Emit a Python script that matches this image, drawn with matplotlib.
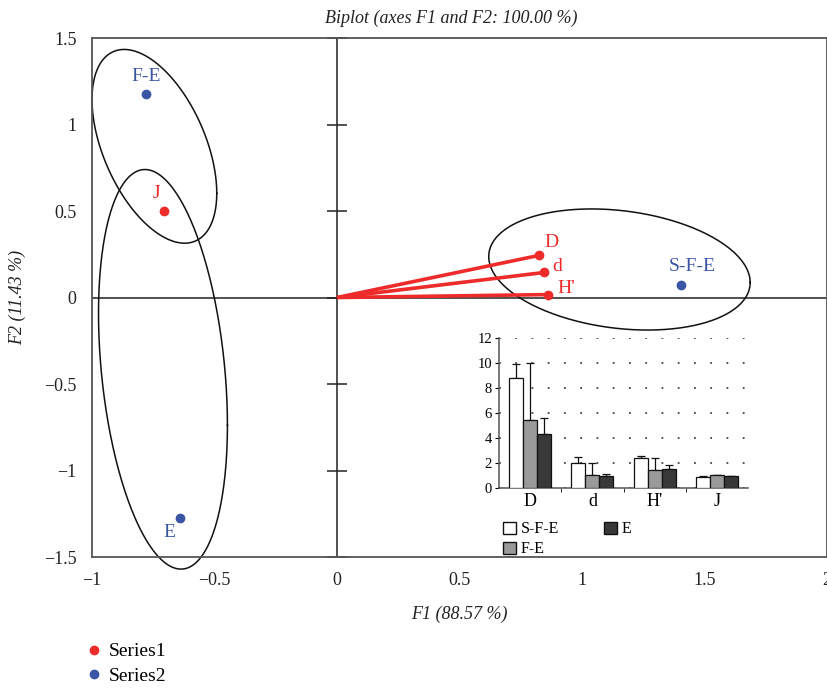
import numpy as np
import matplotlib.pyplot as plt
from matplotlib.lines import Line2D
from matplotlib.patches import Patch

plt.rcParams['font.family'] = ['Liberation Serif', 'DejaVu Serif']

# variables (Series1) - biplot coordinates
var_names = ['D', 'd', "H'", 'J']
var_x = [0.823, 0.847, 0.860, -0.705]
var_y = [0.243, 0.145, 0.017, 0.498]
var_has_vector = [True, True, True, False]

# observations (Series2)
obs_names = ['F-E', 'E', 'S-F-E']
obs_x = [-0.778, -0.640, 1.405]
obs_y = [1.175, -1.274, 0.075]

# confidence ellipses: centre and covariance (xx, xy, yy)
ell_centres = [(-0.745, 0.874), (-0.710, -0.415), (1.153, 0.162)]
ell_covs = [(0.0648, -0.069, 0.3136),
            (0.0692, -0.085, 1.334),
            (0.2846, -0.040, 0.1225)]

# inset bar chart: diversity indices by habitat
idx_names = ['D', 'd', "H'", 'J']
grp_names = ['S-F-E', 'F-E', 'E']
grp_means = [[8.79, 1.96, 2.36, 0.88],
             [5.44, 1.04, 1.45, 0.99],
             [4.29, 0.91, 1.53, 0.91]]
grp_err = [[1.12, 0.48, 0.21, 0.03],
           [4.61, 0.92, 0.91, 0.01],
           [1.28, 0.19, 0.26, 0.02]]
grp_colors = ['white', '#9a9a9a', '#383838']

RED = '#ee2b2b'
BLUE = '#3b55a5'

fig = plt.figure(figsize=(8.28, 6.94), dpi=100)
ax = fig.add_axes([0.111, 0.1974, 0.8878, 0.7478])
ax.set_xlim(-1, 2)
ax.set_ylim(-1.5, 1.5)
ax.set_xticks([-1, -0.5, 0, 0.5, 1, 1.5, 2])
ax.set_xticklabels(['\u22121', '\u22120.5', '0', '0.5', '1', '1.5', '2'])
ax.set_yticks([-1.5, -1, -0.5, 0, 0.5, 1, 1.5])
ax.set_yticklabels(['\u22121.5', '\u22121', '\u22120.5', '0', '0.5', '1', '1.5'])
ax.tick_params(length=0, labelsize=13, pad=11, colors='#222222')
for sp in ax.spines.values():
    sp.set_color('#555555')
    sp.set_linewidth(1.3)

ax.axhline(0, color='#222222', lw=1.1, zorder=1)
ax.axvline(0, color='#222222', lw=1.1, zorder=1)
ax.plot(np.zeros(7), ax.get_yticks(), ls='none', marker='_', ms=14,
        mew=1.1, color='#222222', zorder=1, clip_on=False)

# ellipses from covariance
t = np.linspace(0, 2 * np.pi, 300)
for (cx, cy), (sxx, sxy, syy) in zip(ell_centres, ell_covs):
    L = np.linalg.cholesky(np.array([[sxx, sxy], [sxy, syy]]))
    pts = L @ np.vstack([np.cos(t), np.sin(t)])
    ax.plot(cx + pts[0], cy + pts[1], color='#111111', lw=1.1, zorder=2, clip_on=False)

# variable vectors
for x, y, v in zip(var_x, var_y, var_has_vector):
    if v:
        ax.plot([0, x], [0, y], color=RED, lw=2.6, zorder=3, solid_capstyle='butt')
ax.scatter(var_x, var_y, s=36, color=RED, zorder=4, label='Series1')
ax.scatter(obs_x, obs_y, s=36, color=BLUE, zorder=4, label='Series2')

var_off = [(13, 13), (13, 6), (19, 6), (-8, 18)]
for n, x, y, o in zip(var_names, var_x, var_y, var_off):
    ax.annotate(n, (x, y), xytext=o, textcoords='offset pixels', color=RED,
                fontsize=14, ha='center', va='center')
obs_off = [(0, 18), (-11, -15), (11, 18)]
for n, x, y, o in zip(obs_names, obs_x, obs_y, obs_off):
    ax.annotate(n, (x, y), xytext=o, textcoords='offset pixels', color=BLUE,
                fontsize=14, ha='center', va='center')

ax.set_xlabel('F1 (88.57 %)', fontsize=13, style='italic', labelpad=12, color='#222222')
ax.set_ylabel('F2 (11.43 %)', fontsize=13, style='italic', color='#222222')
ax.yaxis.set_label_coords(-0.09, 0.5)
fig.text(451 / 828, 1 - 18 / 694, 'Biplot (axes F1 and F2: 100.00 %)', fontsize=13,
         style='italic', ha='center', va='center', color='#222222')

fig.legend(handles=[Line2D([], [], ls='none', marker='o', ms=6, color=RED, label='Series1'),
                    Line2D([], [], ls='none', marker='o', ms=6, color=BLUE, label='Series2')],
           loc='upper left', bbox_to_anchor=(0.092, 0.085), frameon=False, fontsize=14,
           handletextpad=0.3, labelspacing=0.35, borderaxespad=0, handlelength=1.0)

# inset bar chart
ins = fig.add_axes([0.6027, 0.2973, 0.3007, 0.2153])
xs = np.arange(len(idx_names))
w = 0.225
for i, (m, e, c) in enumerate(zip(grp_means, grp_err, grp_colors)):
    pos = xs + (i - 1) * w
    ins.bar(pos, m, width=w, color=c, edgecolor='#111111', lw=0.9, label=grp_names[i], zorder=3)
    ins.errorbar(pos, m, yerr=[np.zeros(len(e)), e], fmt='none', ecolor='#111111',
                 elinewidth=0.9, capsize=3, capthick=0.9, zorder=2)
ins.set_xlim(-0.5, 3.5)
ins.set_ylim(0, 12)
ins.set_yticks(range(0, 13, 2))
ins.set_xticks(xs)
ins.set_xticklabels(idx_names, fontsize=13)
ins.set_xticks(xs[:-1] + 0.5, minor=True)
ins.tick_params(axis='y', labelsize=10.5, length=3, pad=2)
ins.tick_params(axis='x', which='major', length=0, pad=4)
ins.tick_params(axis='x', which='minor', length=3, direction='out')
ins.yaxis.grid(True, ls=(0, (1, 8)), color='#444444', lw=1.3)
ins.set_axisbelow(True)
ins.patch.set_alpha(0)
for s in ['top', 'right']:
    ins.spines[s].set_visible(False)
for s in ['left', 'bottom']:
    ins.spines[s].set_color('#555555')
    ins.spines[s].set_linewidth(1.1)

ins.legend(handles=[Patch(facecolor=c, edgecolor='#111111', label=n)
                    for n, c in zip(grp_names, grp_colors)],
           loc='upper left', bbox_to_anchor=(0.6, 0.258), bbox_transform=fig.transFigure,
           ncol=2, frameon=False, fontsize=11.5, handlelength=0.8, handleheight=0.8,
           handletextpad=0.3, columnspacing=2.8, labelspacing=0.25, borderaxespad=0)

fig.savefig('out.png', dpi=100)
